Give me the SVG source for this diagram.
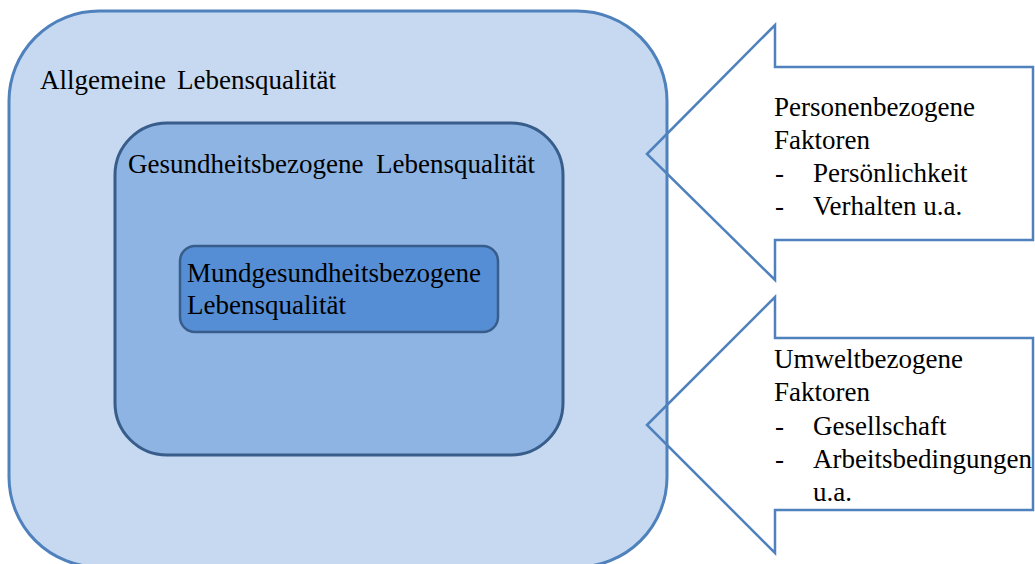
<svg xmlns="http://www.w3.org/2000/svg" width="1035" height="564" viewBox="0 0 1035 564">
<style>
text{font-family:"Liberation Serif","Tinos","DejaVu Serif","Times New Roman",serif;font-size:27px;fill:#000}
.outer{fill:#c6d9f1;stroke:#4f81bd;stroke-width:3}
.mid{fill:#8eb4e3;stroke:#385d8a;stroke-width:3}
.inner{fill:#558ed5;stroke:#385d8a;stroke-width:2.5}
.arrow{fill:none;stroke:#4f81bd;stroke-width:2.5;stroke-linejoin:miter}
</style>
<rect width="1035" height="564" fill="#ffffff"/>
<g id="allgemeine">
<rect class="outer" x="9" y="11" width="658" height="556" rx="90" ry="90"/>
<text y="89"><tspan x="40">Allgemeine</tspan><tspan x="177">Lebensqualität</tspan></text>
</g>
<g id="gesundheit">
<rect class="mid" x="115" y="123" width="448" height="332" rx="52" ry="52"/>
<text y="173"><tspan x="128">Gesundheitsbezogene</tspan><tspan x="376">Lebensqualität</tspan></text>
</g>
<g id="mundgesundheit">
<rect class="inner" x="180" y="246" width="318" height="86" rx="15" ry="15"/>
<text x="187" y="282">Mundgesundheitsbezogene</text>
<text x="187" y="314">Lebensqualität</text>
</g>
<g id="connectors">
<g id="personen">
<polygon class="arrow" points="647,154 775,25 775,67 1033,67 1033,240 775,240 775,280"/>
<text x="774" y="116">Personenbezogene</text>
<text x="774" y="149">Faktoren</text>
<text y="182"><tspan x="775">-</tspan><tspan x="813">Persönlichkeit</tspan></text>
<text y="215"><tspan x="775">-</tspan><tspan x="813">Verhalten u.a.</tspan></text>
</g>
<g id="umwelt">
<polygon class="arrow" points="647,425 775,297 775,338 1033,338 1033,510 775,510 775,553"/>
<text x="774" y="368">Umweltbezogene</text>
<text x="774" y="401">Faktoren</text>
<text y="435"><tspan x="775">-</tspan><tspan x="813">Gesellschaft</tspan></text>
<text y="468"><tspan x="775">-</tspan><tspan x="813">Arbeitsbedingungen</tspan></text>
<text x="813" y="501">u.a.</text>
</g>
</g>
</svg>
